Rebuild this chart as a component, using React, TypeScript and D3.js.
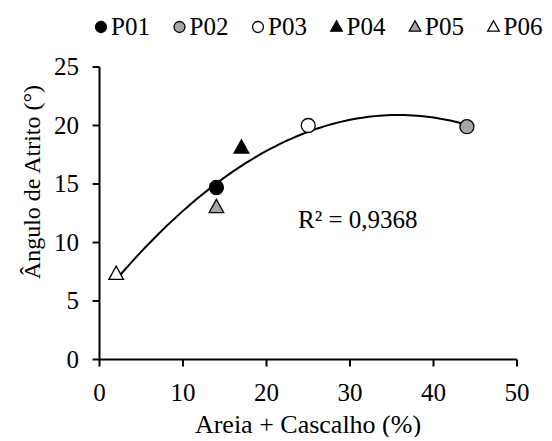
import React from "react";
import { scaleLinear, line, range, extent } from "d3";

const names = ["P01", "P02", "P03", "P04", "P05", "P06"];
const areia = [14, 44, 25, 17, 14, 2];
const angulo = [14.7, 19.9, 20.0, 18.1, 13.0, 7.3];
const shapes = ["circle", "circle", "circle", "triangle", "triangle", "triangle"];
const fills = ["#000000", "#a6a6a6", "#ffffff", "#000000", "#a6a6a6", "#ffffff"];
const xTicks = [0, 10, 20, 30, 40, 50];
const yTicks = [0, 5, 10, 15, 20, 25];
const r2Label = "R² = 0,9368";

// least squares fit y = a + b x + c x^2
function quadFit(xs: number[], ys: number[]) {
  const n = xs.length;
  const s = [0, 0, 0, 0, 0];
  const t = [0, 0, 0];
  for (let i = 0; i < n; i++) {
    for (let k = 0; k < 5; k++) s[k] += Math.pow(xs[i], k);
    for (let k = 0; k < 3; k++) t[k] += ys[i] * Math.pow(xs[i], k);
  }
  const m = [
    [s[0], s[1], s[2], t[0]],
    [s[1], s[2], s[3], t[1]],
    [s[2], s[3], s[4], t[2]],
  ];
  for (let i = 0; i < 3; i++) {
    for (let j = i + 1; j < 3; j++) {
      const f = m[j][i] / m[i][i];
      for (let k = i; k < 4; k++) m[j][k] -= f * m[i][k];
    }
  }
  const c = [0, 0, 0];
  for (let i = 2; i >= 0; i--) {
    let v = m[i][3];
    for (let k = i + 1; k < 3; k++) v -= m[i][k] * c[k];
    c[i] = v / m[i][i];
  }
  return (x: number) => c[0] + c[1] * x + c[2] * x * x;
}

const t = (size: number) => ({ fontFamily: `"Liberation Serif"`, fontSize: size });

const Marker = ({ shape, size, fill }: { shape: string; size: number; fill: string }) => {
  if (shape === "circle") {
    return <circle r={size} fill={fill} stroke="#000" strokeWidth={1.3} />;
  }
  const h = size * 1.9;
  const w = size * 2.1;
  return (
    <path
      d={`M0,${-h * 0.6}L${w / 2},${h * 0.4}L${-w / 2},${h * 0.4}Z`}
      fill={fill}
      stroke="#000"
      strokeWidth={1.3}
    />
  );
};

const App = () => {
  const x = scaleLinear().domain([0, 50]).range([99.5, 517]);
  const y = scaleLinear().domain([0, 25]).range([359.5, 67]);

  const fit = quadFit(areia, angulo);
  const [x0, x1] = extent(areia) as [number, number];
  const xs = range(x0, x1 + 0.001, 0.5);
  const trend = line<number>().x((d) => x(d)).y((d) => y(fit(d)))(xs) || "";

  return (
    <svg width={552} height={441} style={{ margin: -8 }}>
      <rect width={552} height={441} fill="#fff" />
      {/* axes */}
      <line x1={x(0)} x2={x(50)} y1={y(0)} y2={y(0)} stroke="#000" strokeWidth={2} />
      <line x1={x(0)} x2={x(0)} y1={y(0)} y2={y(25)} stroke="#000" strokeWidth={2} />
      {xTicks.map((d) => (
        <line key={"xt" + d} x1={x(d)} x2={x(d)} y1={y(0)} y2={y(0) + 7} stroke="#000" strokeWidth={2} />
      ))}
      {xTicks.map((d) => (
        <text key={"xl" + d} x={x(d)} y={401} textAnchor="middle" style={t(25)}>
          {String(d)}
        </text>
      ))}
      {yTicks.map((d) => (
        <line key={"yt" + d} x1={x(0) - 7} x2={x(0)} y1={y(d)} y2={y(d)} stroke="#000" strokeWidth={2} />
      ))}
      {yTicks.map((d) => (
        <text key={"yl" + d} x={79} y={y(d) + 8} textAnchor="end" style={t(25)}>
          {String(d)}
        </text>
      ))}
      <text x={308} y={433} textAnchor="middle" style={t(26)}>
        Areia + Cascalho (%)
      </text>
      <text transform="translate(40,182) rotate(-90)" textAnchor="middle" style={t(24)}>
        Ângulo de Atrito (°)
      </text>

      {/* trend line */}
      <path d={trend} fill="none" stroke="#000" strokeWidth={2} />

      {/* points */}
      {names.map((n, i) => (
        <g key={n} transform={`translate(${x(areia[i])},${y(angulo[i])})`}>
          <Marker shape={shapes[i]} size={7} fill={fills[i]} />
        </g>
      ))}

      <text x={298} y={228} style={t(25)}>
        {r2Label}
      </text>

      {/* legend */}
      {names.map((n, i) => (
        <g key={"lm" + n} transform={`translate(${101 + i * 78.5},27)`}>
          <Marker shape={shapes[i]} size={5.5} fill={fills[i]} />
        </g>
      ))}
      {names.map((n, i) => (
        <text key={"lt" + n} x={111 + i * 78.5} y={35} style={t(25)}>
          {n}
        </text>
      ))}
    </svg>
  );
};

export default App;
